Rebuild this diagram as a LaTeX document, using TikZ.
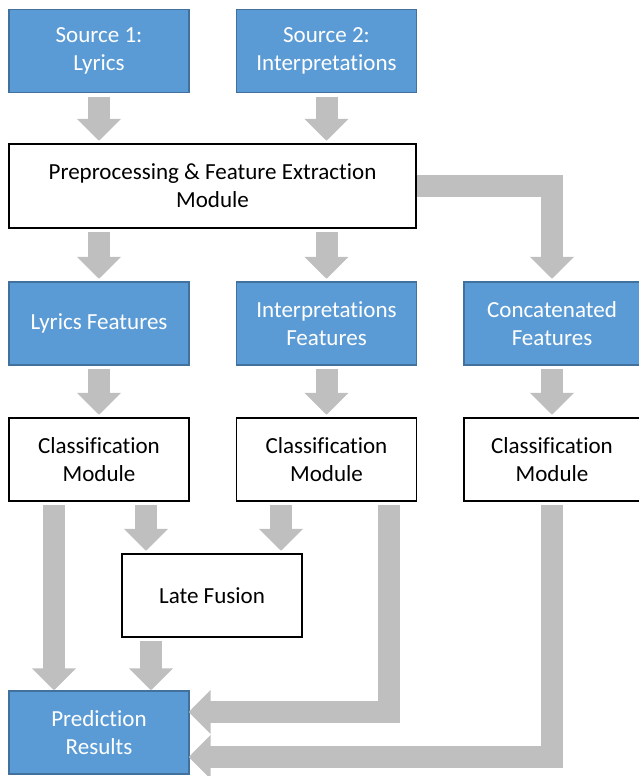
\documentclass[tikz,border=0pt]{standalone}
\usepackage{fontspec}
\setmainfont{Carlito}[Ligatures=NoCommon]
\usetikzlibrary{arrows.meta}
\definecolor{boxblue}{HTML}{5B9BD5}
\definecolor{boxedge}{HTML}{41719C}
\definecolor{arrgray}{HTML}{BFBFBF}
\begin{document}
\begin{tikzpicture}[
  srcbox/.style={draw=boxedge,fill=boxblue,text=white,line width=0.8pt,
    minimum width=3.6cm,minimum height=1.66cm,align=center,inner sep=0pt,
    font=\fontsize{13.1}{16}\selectfont},
  modbox/.style={draw=black,fill=white,line width=0.8pt,
    minimum width=3.6cm,minimum height=1.66cm,align=center,inner sep=0pt,
    font=\fontsize{13.1}{16}\selectfont},
  blk/.style={draw=arrgray,line width=0.44cm,line join=miter,
    -{Triangle[width=0.86cm,length=0.44cm]},
    shorten <=0.07cm,shorten >=0.05cm}
]

\useasboundingbox (0,0) rectangle (12.78,-15.52);

\node at (1.98,-1.02) [srcbox] (src1) {Source 1:\\Lyrics};
\node at (6.53,-1.02) [srcbox] (src2) {Source 2:\\Interpretations};

\node at (4.25,-3.72) [modbox,minimum width=8.14cm,minimum height=1.68cm] (pre) {Preprocessing \& Feature Extraction\\Module};

\node at (1.98,-6.47) [srcbox] (lyr) {Lyrics Features};
\node at (6.53,-6.47) [srcbox] (int) {Interpretations\\Features};
\node at (11.04,-6.47) [srcbox,minimum width=3.52cm] (con) {Concatenated\\Features};

\node at (1.98,-9.19) [modbox] (cls1) {Classification\\Module};
\node at (6.53,-9.19) [modbox] (cls2) {Classification\\Module};
\node at (11.04,-9.19) [modbox,minimum width=3.52cm] (cls3) {Classification\\Module};

\node at (4.24,-11.91) [modbox] (late) {Late Fusion};

\node at (1.98,-14.65) [srcbox] (pred) {Prediction\\Results};

% sources to preprocessing
\draw[blk] (src1) -- (pre.north -| src1);
\draw[blk] (src2) -- (pre.north -| src2);

% preprocessing to features
\draw[blk] (pre.south -| lyr) -- (lyr);
\draw[blk] (pre.south -| int) -- (int);
\draw[blk,shorten <=0pt] (pre.east) -| (con.north);

% features to classification
\draw[blk] (lyr) -- (cls1);
\draw[blk] (int) -- (cls2);
\draw[blk] (con) -- (cls3);

% classification to fusion and results
\draw[blk,shorten >=0pt] ([xshift=-0.9cm]cls1.south) -- ([xshift=-0.9cm]pred.north);
\draw[blk] ([xshift=0.94cm]cls1.south) -- ([xshift=0.94cm]cls1.south |- late.north);
\draw[blk] ([xshift=-0.91cm]cls2.south) -- ([xshift=-0.91cm]cls2.south |- late.north);
\draw[blk,shorten >=0pt] ([xshift=-1.22cm]late.south) -- ([xshift=-1.22cm]late.south |- pred.north);
\draw[blk,shorten >=-0.02cm] ([xshift=1.25cm]cls2.south) |- ([yshift=0.41cm]pred.east);
\draw[blk,shorten >=-0.02cm] (cls3.south) |- ([yshift=-0.49cm]pred.east);

\end{tikzpicture}
\end{document}
